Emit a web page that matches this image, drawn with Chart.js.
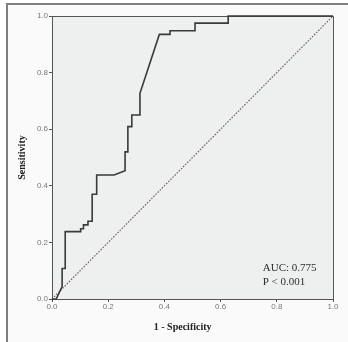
<!DOCTYPE html>
<html>
<head>
<meta charset="utf-8">
<script src="https://cdn.jsdelivr.net/npm/chart.js@4.4.1/dist/chart.umd.min.js"></script>
<style>
  html, body { margin: 0; padding: 0; background: #ffffff; }
  #wrap { width: 348px; height: 342px; }
  canvas { display: block; }
</style>
</head>
<body>
<div id="wrap"><canvas id="roc" width="348" height="342"></canvas></div>
<script>
// ROC curve: false positive rate (1 - specificity) vs true positive rate (sensitivity)
const fpr = [0, 0.015, 0.036, 0.036, 0.047, 0.047, 0.102, 0.102, 0.112, 0.112, 0.128, 0.128, 0.143, 0.143,
             0.159, 0.159, 0.221, 0.26, 0.26, 0.27, 0.27, 0.284, 0.284, 0.313, 0.313, 0.382,
             0.42, 0.42, 0.509, 0.509, 0.627, 0.627, 1];
const tpr = [0, 0, 0.044, 0.108, 0.108, 0.238, 0.238, 0.248, 0.248, 0.262, 0.262, 0.275, 0.275, 0.37,
             0.37, 0.438, 0.438, 0.453, 0.52, 0.52, 0.609, 0.609, 0.65, 0.65, 0.727, 0.935,
             0.935, 0.948, 0.948, 0.975, 0.975, 1, 1];
// Chance line
const refX = [0, 1];
const refY = [0, 1];
// Axis ticks
const tickValues = [0, 0.2, 0.4, 0.6, 0.8, 1.0];
const tickLabels = ['0.0', '0.2', '0.4', '0.6', '0.8', '1.0'];
// Axis titles and annotation lines
const xTitle = '1 - Specificity';
const yTitle = 'Sensitivity';
const statLines = ['AUC: 0.775', 'P < 0.001'];

const toPoints = (xs, ys) => xs.map((x, i) => ({ x: x, y: ys[i] }));

const framePlugin = {
  id: 'frame',
  beforeDraw(chart) {
    const { ctx, chartArea: a, width, height } = chart;
    ctx.save();
    ctx.fillStyle = '#ffffff';
    ctx.fillRect(0, 0, width, height);
    ctx.fillStyle = '#fafafa';
    ctx.fillRect(8, 5, width - 8, height - 5);
    // outer figure frame (top and left edges)
    ctx.strokeStyle = '#7e7e7e';
    ctx.lineWidth = 2;
    ctx.beginPath();
    ctx.moveTo(width, 4);
    ctx.lineTo(7, 4);
    ctx.lineTo(7, height);
    ctx.stroke();
    // plot background
    ctx.fillStyle = '#eeefef';
    ctx.fillRect(a.left, a.top, a.right - a.left, a.bottom - a.top);
    ctx.restore();
  },
  beforeDatasetsDraw(chart) {
    const { ctx, chartArea: a } = chart;
    ctx.save();
    ctx.strokeStyle = '#555555';
    ctx.lineWidth = 1;
    ctx.beginPath();
    ctx.moveTo(a.left, a.top + 0.5);
    ctx.lineTo(a.right + 0.5, a.top + 0.5);
    ctx.lineTo(a.right + 0.5, a.bottom);
    ctx.stroke();
    ctx.restore();
  },
  afterDraw(chart) {
    const { ctx, scales } = chart;
    ctx.save();
    // x axis title, set slightly left of the axis centre
    ctx.fillStyle = '#222222';
    ctx.font = 'bold 10px "Liberation Serif", serif';
    ctx.textAlign = 'center';
    ctx.textBaseline = 'middle';
    ctx.fillText(xTitle, scales.x.getPixelForValue(0.465), 327);
    // statistics annotation
    ctx.fillStyle = '#2e2e2e';
    ctx.font = '11px "Liberation Serif", serif';
    ctx.textAlign = 'left';
    const x0 = scales.x.getPixelForValue(0.75);
    const y0 = scales.y.getPixelForValue(0.11);
    statLines.forEach((t, i) => ctx.fillText(t, x0, y0 + i * 14.5));
    ctx.restore();
  }
};

const tickFont = { family: '"Liberation Sans", sans-serif', size: 8 };
const titleFont = { family: '"Liberation Serif", serif', size: 10, weight: 'bold' };

new Chart(document.getElementById('roc'), {
  type: 'scatter',
  data: {
    datasets: [
      {
        data: toPoints(fpr, tpr),
        showLine: true,
        borderColor: '#3a3a3a',
        borderWidth: 1.6,
        pointRadius: 0,
        tension: 0,
        fill: false,
        clip: false
      },
      {
        data: toPoints(refX, refY),
        showLine: true,
        borderColor: '#6e5e58',
        borderWidth: 1.2,
        borderDash: [1.5, 1.5],
        pointRadius: 0,
        fill: false,
        clip: false
      }
    ]
  },
  options: {
    responsive: false,
    devicePixelRatio: 1,
    animation: false,
    layout: { padding: { left: 0, top: 16, right: 15, bottom: 0 } },
    plugins: { legend: { display: false }, tooltip: { enabled: false } },
    scales: {
      x: {
        type: 'linear', min: 0, max: 1,
        afterFit(s) { s.height = 43; },
        afterBuildTicks(s) { s.ticks = tickValues.map(v => ({ value: v })); },
        grid: { display: true, drawOnChartArea: false, drawTicks: true, tickLength: 3, color: '#555' },
        border: { display: true, color: '#555', width: 1 },
        ticks: { callback: (v, i) => tickLabels[i], font: tickFont, color: '#777777', padding: 0, maxRotation: 0 },
        title: { display: false }
      },
      y: {
        type: 'linear', min: 0, max: 1,
        afterFit(s) { s.width = 52; },
        afterBuildTicks(s) { s.ticks = tickValues.map(v => ({ value: v })); },
        grid: { display: true, drawOnChartArea: false, drawTicks: true, tickLength: 3, color: '#555' },
        border: { display: true, color: '#555', width: 1 },
        ticks: { callback: (v, i) => tickLabels[i], font: tickFont, color: '#777777', padding: 1 },
        title: { display: true, text: yTitle, font: titleFont, color: '#222', padding: { top: 16, bottom: 0 } }
      }
    }
  },
  plugins: [framePlugin]
});
</script>
</body>
</html>
